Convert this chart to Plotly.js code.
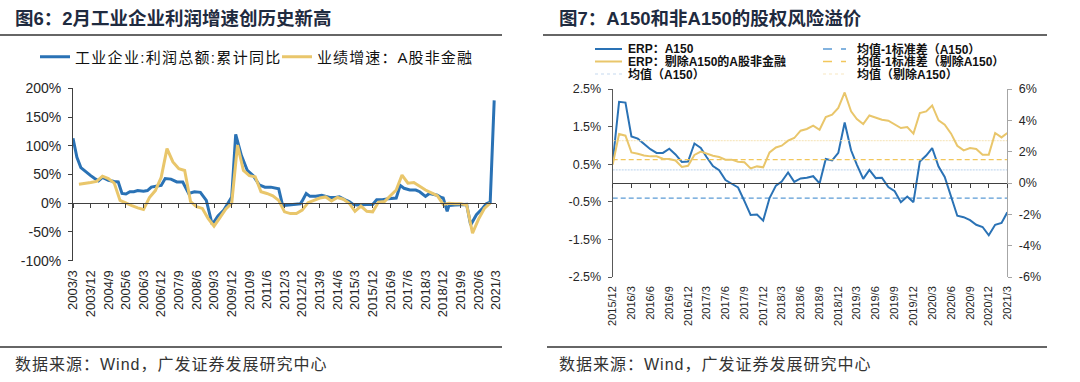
<!DOCTYPE html>
<html>
<head>
<meta charset="utf-8">
<script src="https://cdn.plot.ly/plotly-3.0.1.min.js"></script>
<style>
html,body{margin:0;padding:0;background:#fff;}
#chart{width:1080px;height:382px;}
</style>
</head>
<body>
<div id="chart"></div>
<script>
// ---------------- DATA ----------------
// Figure 6: industrial profit cumulative YoY (%), monthly readings
const PROFIT_DATES = ["2003-03","2003-05","2003-07","2003-10","2003-12","2004-02","2004-04","2004-06","2004-09","2004-12",
  "2005-02","2005-04","2005-06","2005-08","2005-10","2005-12","2006-03","2006-05","2006-07","2006-10","2006-12",
  "2007-02","2007-05","2007-08","2007-11","2008-02","2008-05","2008-08","2008-10","2008-11",
  "2009-02","2009-05","2009-08","2009-11","2009-12","2010-02","2010-05","2010-08","2010-11",
  "2011-02","2011-05","2011-08","2011-11","2011-12","2012-02","2012-06","2012-09","2012-11","2012-12",
  "2013-02","2013-04","2013-07","2013-10","2013-12","2014-02","2014-05","2014-07","2014-10","2014-12",
  "2015-02","2015-04","2015-09","2015-11","2015-12","2016-02","2016-05","2016-08","2016-11","2016-12",
  "2017-02","2017-04","2017-07","2017-10","2017-12","2018-03","2018-05","2018-09","2018-11","2018-12",
  "2019-02","2019-03","2019-06","2019-09","2019-12","2020-02","2020-05","2020-08","2020-10","2020-12","2021-02"];
const PROFIT_YOY = [113,80,62,53,48,43,39,45,40,38,
  37,17,16,20,20,22,21,22,28,30,31,
  43,42,37,37,17,20,19,10,5,
  -37,-22,-12,5,11,120,83,57,48,
  32,28,28,25,25,-4,-3,-2,-1,4,
  17,12,12,14,12,10,10,11,6,3,
  -2,-3,-2,-2,-2,6,6,8,9,9,
  31,26,23,23,20,12,17,14,10,9,
  -14,-4,-3,-2,-2,-38,-20,-9,-1,2,179];

// Figure 6: A-share non-financial earnings growth (%), quarterly
const EARN_DATES = ["2003-06","2003-09","2003-12","2004-03","2004-06","2004-09","2004-12",
  "2005-03","2005-06","2005-09","2005-12","2006-03","2006-06","2006-09","2006-12",
  "2007-03","2007-06","2007-09","2007-12","2008-03","2008-06","2008-09","2008-12",
  "2009-03","2009-06","2009-09","2009-12","2010-03","2010-06","2010-09","2010-12",
  "2011-03","2011-06","2011-09","2011-12","2012-03","2012-06","2012-09","2012-12",
  "2013-03","2013-06","2013-09","2013-12","2014-03","2014-06","2014-09","2014-12",
  "2015-03","2015-06","2015-09","2015-12","2016-03","2016-06","2016-09","2016-12",
  "2017-03","2017-06","2017-09","2017-12","2018-03","2018-06","2018-09","2018-12",
  "2019-03","2019-06","2019-09","2019-12","2020-03","2020-06","2020-09","2020-12"];
const EARN_GROWTH = [33,34,36,38,47,43,35,
  5,0,-4,-8,-11,10,22,45,
  95,72,60,57,3,-6,-9,-27,
  -40,-25,-10,0,101,57,48,46,
  20,17,13,5,-15,-18,-18,-12,
  1,5,9,11,4,10,7,0,
  -14,-5,-14,-15,2,3,14,23,
  49,35,36,29,23,18,13,-2,
  0,-1,-1,-3,-52,-28,-9,0];

// Figure 7: equity risk premium (%), monthly
const ERP_MONTHS = ["2015-12",
  "2016-01","2016-02","2016-03","2016-04","2016-05","2016-06","2016-07","2016-08","2016-09","2016-10","2016-11","2016-12",
  "2017-01","2017-02","2017-03","2017-04","2017-05","2017-06","2017-07","2017-08","2017-09","2017-10","2017-11","2017-12",
  "2018-01","2018-02","2018-03","2018-04","2018-05","2018-06","2018-07","2018-08","2018-09","2018-10","2018-11","2018-12",
  "2019-01","2019-02","2019-03","2019-04","2019-05","2019-06","2019-07","2019-08","2019-09","2019-10","2019-11","2019-12",
  "2020-01","2020-02","2020-03","2020-04","2020-05","2020-06","2020-07","2020-08","2020-09","2020-10","2020-11","2020-12",
  "2021-01","2021-02","2021-03"];
// ERP: A150 (left axis, %)
const ERP_A150 = [0.55,
  2.16,2.14,1.24,1.18,1.04,0.90,0.80,0.80,0.91,0.76,0.56,0.57,
  1.05,0.93,0.69,0.45,0.34,0.08,-0.02,-0.12,-0.48,-0.85,-0.84,-1.00,
  -0.40,-0.07,0.04,0.28,0.03,0.12,0.14,0.18,-0.01,0.64,0.60,0.80,
  1.61,0.87,0.49,0.11,0.35,0.13,0.14,-0.11,-0.22,-0.51,-0.36,-0.51,
  0.57,0.73,0.93,0.44,0.16,-0.36,-0.87,-0.91,-0.99,-1.11,-1.17,-1.39,
  -1.11,-1.06,-0.78];
// ERP: A-share non-financial excluding A150 (right axis, %)
const ERP_EX_A150 = [1.17,
  3.13,3.02,1.95,1.87,1.76,1.70,1.70,1.55,1.53,1.44,1.02,1.10,
  1.79,2.00,1.87,1.74,1.66,1.49,1.49,1.36,1.32,0.93,1.06,1.00,
  1.95,2.27,2.38,2.70,2.87,3.34,3.45,3.66,3.40,4.21,4.36,4.79,
  5.78,4.57,4.08,3.76,4.31,4.19,4.04,3.98,3.76,3.51,3.57,3.15,
  4.47,4.57,4.95,4.00,3.72,3.15,2.38,2.08,2.23,2.17,1.81,1.81,
  3.19,2.91,3.19];
const MEAN_A150 = 0.35;
const MEAN_A150_MINUS_SD = -0.40;
const MEAN_EX_A150 = 2.70;
const MEAN_EX_A150_MINUS_SD = 1.49;

// tick labels
const L_Y_VALS = [-100,-50,0,50,100,150,200];
const L_Y_TEXT = ["-100%","-50%","0%","50%","100%","150%","200%"];
const R_Y1_VALS = [-2.5,-1.5,-0.5,0.5,1.5,2.5];
const R_Y1_TEXT = ["-2.5%","-1.5%","-0.5%","0.5%","1.5%","2.5%"];
const R_Y2_VALS = [-6,-4,-2,0,2,4,6];
const R_Y2_TEXT = ["-6%","-4%","-2%","0%","2%","4%","6%"];

// text
const TITLE_L = "图6：2月工业企业利润增速创历史新高";
const TITLE_R = "图7：A150和非A150的股权风险溢价";
const SOURCE = "数据来源：Wind，广发证券发展研究中心";
const NAME_PROFIT = "工业企业:利润总额:累计同比";
const NAME_EARN = "业绩增速：A股非金融";
const NAME_ERP_A150 = "ERP：A150";
const NAME_ERP_EX = "ERP：剔除A150的A股非金融";
const NAME_MEAN_A150 = "均值（A150）";
const NAME_M1SD_A150 = "均值-1标准差（A150）";
const NAME_M1SD_EX = "均值-1标准差（剔除A150）";
const NAME_MEAN_EX = "均值（剔除A150）";

// ---------------- STYLE / LAYOUT ----------------
const W = 1080, H = 382;
const fx = v => v / W, fy = v => 1 - v / H;
const FONT_NUM = "Liberation Sans, Arial, Noto Sans CJK SC, sans-serif";
const FONT_CJK = "Liberation Sans, Noto Sans CJK SC, sans-serif";
const BLUE = "#2a72b5", GOLD = "#e9c66b";
const BLUE_DASH = "#5b9bd5", GOLD_DASH = "#f2c75c";
const BLUE_DOT = "#c5daf0", GOLD_DOT = "#f7e8c2";
const spaced = (s, px) => '<span style="letter-spacing:' + px + 'px">' + s + '</span>';

const LX = [fx(73), fx(496)], LY = [fy(260.7), fy(88.3)];
const RX = [fx(612.7), fx(1007.3)], RY = [fy(277), fy(89)];
const L_YRANGE = [-100, 200], R_Y1RANGE = [-2.5, 2.5], R_Y2RANGE = [-6, 6];
const L_XRANGE = [PROFIT_DATES[0] + "-01", "2021-03-01"];
const R_XRANGE = [ERP_MONTHS[0] + "-01", ERP_MONTHS[ERP_MONTHS.length - 1] + "-01"];
const zeroPos = (dom, rng) => dom[0] + (0 - rng[0]) / (rng[1] - rng[0]) * (dom[1] - dom[0]);

const erpEnds = [ERP_MONTHS[0], ERP_MONTHS[ERP_MONTHS.length - 1]];

// x/x2 carry the bottom date labels; x3/x4 (same ranges) are the axes drawn on the zero line
const traces = [
  {x: PROFIT_DATES, y: PROFIT_YOY, name: spaced(NAME_PROFIT, 1.3), type: "scatter", mode: "lines",
   line: {color: BLUE, width: 3}, xaxis: "x", yaxis: "y", legend: "legend"},
  {x: EARN_DATES, y: EARN_GROWTH, name: spaced(NAME_EARN, 1.1), type: "scatter", mode: "lines",
   line: {color: GOLD, width: 3}, xaxis: "x3", yaxis: "y", legend: "legend"},

  {x: erpEnds, y: [MEAN_A150, MEAN_A150], name: NAME_MEAN_A150, mode: "lines",
   line: {color: BLUE_DOT, width: 1.2, dash: "2px,1px"}, xaxis: "x2", yaxis: "y2", showlegend: false},
  {x: erpEnds, y: [MEAN_EX_A150, MEAN_EX_A150], name: NAME_MEAN_EX, mode: "lines",
   line: {color: GOLD_DOT, width: 1.2, dash: "2px,1px"}, xaxis: "x4", yaxis: "y3", showlegend: false},
  {x: erpEnds, y: [MEAN_A150_MINUS_SD, MEAN_A150_MINUS_SD], name: NAME_M1SD_A150, mode: "lines",
   line: {color: BLUE_DASH, width: 1.3, dash: "5px,3px"}, xaxis: "x2", yaxis: "y2", showlegend: false},
  {x: erpEnds, y: [MEAN_EX_A150_MINUS_SD, MEAN_EX_A150_MINUS_SD], name: NAME_M1SD_EX, mode: "lines",
   line: {color: GOLD_DASH, width: 1.3, dash: "5px,3px"}, xaxis: "x4", yaxis: "y3", showlegend: false},
  {x: ERP_MONTHS, y: ERP_EX_A150, name: NAME_ERP_EX, mode: "lines",
   line: {color: GOLD, width: 2}, xaxis: "x4", yaxis: "y3", showlegend: false},
  {x: ERP_MONTHS, y: ERP_A150, name: NAME_ERP_A150, mode: "lines",
   line: {color: BLUE, width: 2}, xaxis: "x2", yaxis: "y2", showlegend: false}
];

const baseAxis = {showgrid: false, zeroline: false, fixedrange: true};
const dateLabelAxis = (dom, rng, tick0, dtick, size, anchor) => Object.assign({}, baseAxis, {
  domain: dom, type: "date", range: rng, tickmode: "linear", tick0: tick0, dtick: dtick,
  tickformat: "%Y/%-m", tickangle: -90, ticks: "", showline: false, anchor: anchor,
  tickfont: {family: FONT_NUM, size: size, color: "#262626"}, ticklabelstandoff: 6
});
const zeroAxis = (dom, rng, tick0, dtick, over, pos) => Object.assign({}, baseAxis, {
  domain: dom, type: "date", range: rng, tickmode: "linear", tick0: tick0, dtick: dtick,
  overlaying: over, anchor: "free", position: pos, showline: true, linecolor: "#404040", linewidth: 1,
  ticks: "outside", ticklen: 4, tickcolor: "#404040", tickwidth: 1, showticklabels: false
});

// right-hand legend (custom grid)
const R_LEGEND = [
  {name: NAME_ERP_A150, color: BLUE, dash: "solid", width: 2, x0: 595, x1: 622, tx: 626, y: 49},
  {name: NAME_ERP_EX, color: GOLD, dash: "solid", width: 2, x0: 595, x1: 622, tx: 626, y: 61.5},
  {name: NAME_MEAN_A150, color: BLUE_DOT, dash: "dot", width: 1.2, x0: 595, x1: 622, tx: 626, y: 74},
  {name: NAME_M1SD_A150, color: BLUE_DASH, dash: "dash", width: 1.3, x0: 823, x1: 846, tx: 855, y: 49},
  {name: NAME_M1SD_EX, color: GOLD_DASH, dash: "dash", width: 1.3, x0: 823, x1: 846, tx: 855, y: 61.5},
  {name: NAME_MEAN_EX, color: GOLD_DOT, dash: "dot", width: 1.2, x0: 823, x1: 846, tx: 855, y: 74}
];

const shapes = [
  {type: "line", xref: "paper", yref: "paper", x0: fx(0), x1: fx(502), y0: fy(35), y1: fy(35), line: {color: "#333", width: 1.3}},
  {type: "line", xref: "paper", yref: "paper", x0: fx(543), x1: fx(1047), y0: fy(35), y1: fy(35), line: {color: "#333", width: 1.3}},
  {type: "line", xref: "paper", yref: "paper", x0: fx(0), x1: fx(502), y0: fy(347), y1: fy(347), line: {color: "#333", width: 1.3}},
  {type: "line", xref: "paper", yref: "paper", x0: fx(547), x1: fx(1047), y0: fy(347), y1: fy(347), line: {color: "#333", width: 1.3}}
];
const annotations = [
  {text: TITLE_L, x: fx(13), y: fy(19)},
  {text: TITLE_R, x: fx(557), y: fy(19)}
].map(a => Object.assign({xref: "paper", yref: "paper", xanchor: "left", yanchor: "middle", showarrow: false,
  font: {family: FONT_CJK, size: 18.5, color: "#1f2b40", weight: "bold"}}, a));
[{x: fx(13), y: fy(364)}, {x: fx(557), y: fy(364)}].forEach(p => annotations.push({
  text: spaced(SOURCE, 1), x: p.x, y: p.y, xref: "paper", yref: "paper",
  xanchor: "left", yanchor: "middle", showarrow: false, font: {family: FONT_CJK, size: 16, color: "#333"}
}));
R_LEGEND.forEach(e => {
  shapes.push({type: "line", xref: "paper", yref: "paper", x0: fx(e.x0), x1: fx(e.x1), y0: fy(e.y), y1: fy(e.y),
    line: {color: e.color, width: e.width, dash: e.dash}});
  annotations.push({text: e.name, x: fx(e.tx), y: fy(e.y), xref: "paper", yref: "paper", xanchor: "left", yanchor: "middle",
    showarrow: false, font: {family: FONT_CJK, size: 12, color: "#111", weight: "bold"}});
});

const layout = {
  width: W, height: H, autosize: false,
  margin: {l: 0, r: 0, t: 0, b: 0, pad: 0},
  paper_bgcolor: "#fff", plot_bgcolor: "rgba(0,0,0,0)",
  showlegend: true,
  legend: {orientation: "h", x: fx(35), xanchor: "left", y: fy(57), yanchor: "middle",
    font: {family: FONT_CJK, size: 15, color: "#111"}, bgcolor: "rgba(0,0,0,0)", itemwidth: 30, borderwidth: 0,
    entrywidth: 197, entrywidthmode: "pixels"},
  xaxis: dateLabelAxis(LX, L_XRANGE, "2003-03-01", "M9", 13, "y"),
  xaxis3: zeroAxis(LX, L_XRANGE, "2003-03-01", "M9", "x", zeroPos(LY, L_YRANGE)),
  yaxis: Object.assign({}, baseAxis, {domain: LY, range: L_YRANGE, anchor: "x", tickmode: "array",
    tickvals: L_Y_VALS, ticktext: L_Y_TEXT, showline: true, linecolor: "#404040", ticks: "outside", ticklen: 4,
    tickcolor: "#404040", tickfont: {family: FONT_NUM, size: 14, color: "#262626"}, ticklabelstandoff: 4}),
  xaxis2: dateLabelAxis(RX, R_XRANGE, "2015-12-01", "M3", 11, "y2"),
  xaxis4: zeroAxis(RX, R_XRANGE, "2015-12-01", "M3", "x2", zeroPos(RY, R_Y1RANGE)),
  yaxis2: Object.assign({}, baseAxis, {domain: RY, range: R_Y1RANGE, anchor: "x2", tickmode: "array",
    tickvals: R_Y1_VALS, ticktext: R_Y1_TEXT, showline: true, linecolor: "#595959", ticks: "outside", ticklen: 4,
    tickcolor: "#595959", tickfont: {family: FONT_NUM, size: 12.5, color: "#262626"}, ticklabelstandoff: 4}),
  yaxis3: Object.assign({}, baseAxis, {domain: RY, range: R_Y2RANGE, anchor: "x2", overlaying: "y2", side: "right",
    tickmode: "array", tickvals: R_Y2_VALS, ticktext: R_Y2_TEXT, showline: true, linecolor: "#a6a6a6", ticks: "outside",
    ticklen: 4, tickcolor: "#a6a6a6", tickfont: {family: FONT_NUM, size: 12.5, color: "#262626"}, ticklabelstandoff: 4}),
  shapes: shapes,
  annotations: annotations
};

Plotly.newPlot("chart", traces, layout, {staticPlot: true, displayModeBar: false});
</script>
</body>
</html>
